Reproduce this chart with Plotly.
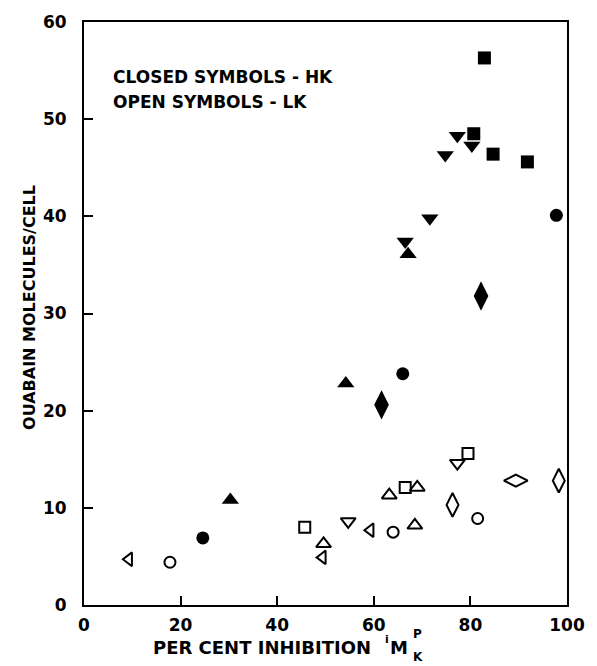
import plotly.graph_objects as go

# HK (closed symbols)
hk_square_x = [82.9, 80.7, 84.7, 91.8]
hk_square_y = [56.3, 48.5, 46.4, 45.6]
hk_tridown_x = [77.3, 74.8, 80.3, 71.6, 66.5]
hk_tridown_y = [48.3, 46.3, 47.3, 39.8, 37.4]
hk_triup_x = [67.1, 54.2, 30.3]
hk_triup_y = [36.1, 22.8, 10.8]
hk_circle_x = [97.8, 66.0, 24.6]
hk_circle_y = [40.1, 23.8, 6.9]
hk_diamond_x = [82.2, 61.6]
hk_diamond_y = [31.8, 20.6]

# LK (open symbols)
lk_triLeft_x = [9.3, 49.4, 59.3]
lk_triLeft_y = [4.7, 4.9, 7.7]
lk_circle_x = [17.8, 64.0, 81.5]
lk_circle_y = [4.4, 7.5, 8.9]
lk_square_x = [45.7, 66.5, 79.5]
lk_square_y = [8.0, 12.1, 15.6]
lk_triup_x = [49.6, 63.2, 69.0, 68.5]
lk_triup_y = [6.3, 11.3, 12.1, 8.2]
lk_tridown_x = [54.7, 77.3]
lk_tridown_y = [8.6, 14.6]
lk_diamond_x = [76.3, 98.3]
lk_diamond_y = [10.3, 12.8]
lk_diamondwide_x = [89.4]
lk_diamondwide_y = [12.8]

x_ticks = [0, 20, 40, 60, 80, 100]
y_ticks = [0, 10, 20, 30, 40, 50, 60]

fig = go.Figure()


def add(x, y, symbol, size, open_=False):
    marker = dict(symbol=symbol, size=size, color="black")
    if open_:
        marker["line"] = dict(color="black", width=2)
    fig.add_trace(go.Scatter(x=x, y=y, mode="markers", marker=marker,
                             showlegend=False, hoverinfo="x+y"))


add(hk_square_x, hk_square_y, "square", 13)
add(hk_tridown_x, hk_tridown_y, "triangle-down", 15)
add(hk_triup_x, hk_triup_y, "triangle-up", 15)
add(hk_circle_x, hk_circle_y, "circle", 13)
add(hk_diamond_x, hk_diamond_y, "diamond-tall", 21)

add(lk_triLeft_x, lk_triLeft_y, "triangle-left-open", 12, True)
add(lk_circle_x, lk_circle_y, "circle-open", 11, True)
add(lk_square_x, lk_square_y, "square-open", 11, True)
add(lk_triup_x, lk_triup_y, "triangle-up-open", 13, True)
add(lk_tridown_x, lk_tridown_y, "triangle-down-open", 13, True)
add(lk_diamond_x, lk_diamond_y, "diamond-tall-open", 17, True)
add(lk_diamondwide_x, lk_diamondwide_y, "diamond-wide-open", 17, True)

fnt = dict(family="DejaVu Sans", size=17, color="black", weight="bold")

common = dict(ticks="inside", ticklen=9, tickwidth=2, tickcolor="black",
              showline=True, linewidth=2, linecolor="black", mirror=True,
              showgrid=False, zeroline=False, tickfont=fnt,
              ticklabeloverflow="allow")
fig.update_xaxes(range=[0, 100], tickvals=x_ticks, ticklabelstandoff=4, **common)
fig.update_yaxes(range=[0, 60], tickvals=y_ticks, ticklabelstandoff=12, **common)

W, H = 597, 666
L, R, T, B = 84, 18, 17, 61
pw, ph = W - L - R, H - T - B

texts = [
    dict(text="CLOSED SYMBOLS - HK", x=112, y=72, xanchor="left", size=17),
    dict(text="OPEN SYMBOLS - LK", x=112, y=98, xanchor="left", size=17),
    dict(text="PER CENT INHIBITION", x=380, y=648, xanchor="right", size=18),
    dict(text="i", x=390, y=640, xanchor="left", size=11),
    dict(text="M", x=396, y=648, xanchor="left", size=18),
    dict(text="P", x=419, y=634, xanchor="left", size=12),
    dict(text="K", x=419, y=657, xanchor="left", size=12),
    dict(text="OUABAIN MOLECULES/CELL", x=28, y=305, xanchor="center", size=16,
         textangle=-90),
]
for a in texts:
    f = dict(family="DejaVu Sans", size=a["size"], color="black", weight="bold")
    fig.add_annotation(xref="paper", yref="paper", showarrow=False,
                       x=(a["x"] - L) / pw, y=1 - (a["y"] - T) / ph,
                       xanchor=a["xanchor"], yanchor="middle",
                       text=a["text"], font=f, textangle=a.get("textangle", 0))

fig.update_layout(width=W, height=H, margin=dict(l=L, r=R, t=T, b=B),
                  plot_bgcolor="white", paper_bgcolor="white")

fig.write_html("out.html")
